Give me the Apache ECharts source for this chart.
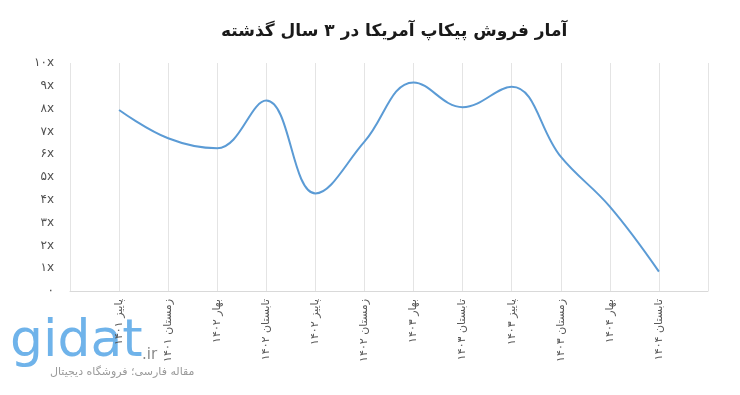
<!DOCTYPE html>
<html>
<head>
<meta charset="utf-8">
<script src="https://cdn.jsdelivr.net/npm/echarts@6/dist/echarts.min.js"></script>
<style>html,body{margin:0;padding:0;background:#fff;}#c{width:740px;height:395px;}</style>
</head>
<body>
<div id="c"></div>
<script>
var titleText = 'آمار فروش پیکاپ آمریکا در ۳ سال گذشته';
var categories = ['پاییز ۱۴۰۱','زمستان ۱۴۰۱','بهار ۱۴۰۲','تابستان ۱۴۰۲','پاییز ۱۴۰۲','زمستان ۱۴۰۲','بهار ۱۴۰۳','تابستان ۱۴۰۳','پاییز ۱۴۰۳','زمستان ۱۴۰۳','بهار ۱۴۰۴','تابستان ۱۴۰۴'];
var sales = [7.94, 6.70, 6.26, 8.35, 4.28, 6.55, 9.15, 8.06, 8.96, 5.89, 3.70, 0.85];
var yTickLabels = ['۰','۱x','۲x','۳x','۴x','۵x','۶x','۷x','۸x','۹x','۱۰x'];

var font = '"DejaVu Sans", sans-serif';
var xCats = [''].concat(categories).concat(['']);
var yData = [null].concat(sales).concat([null]);

var chart = echarts.init(document.getElementById('c'));
chart.setOption({
  backgroundColor: '#ffffff',
  animation: false,
  title: {
    text: titleText, left: 216, top: 18,
    textStyle: {fontFamily: font, fontSize: 17, fontWeight: 'bold', color: '#1a1a1a'}
  },
  grid: {left: 70, right: 32, top: 63, bottom: 104},
  xAxis: {
    type: 'category', data: xCats, boundaryGap: false,
    axisLine: {lineStyle: {color: '#d9d9d9'}},
    axisTick: {show: false},
    splitLine: {show: true, interval: 0, lineStyle: {color: '#e4e4e4'}},
    axisLabel: {interval: 0, rotate: 90, margin: 8, fontFamily: font, fontSize: 11, color: '#595959'}
  },
  yAxis: {
    type: 'value', min: 0, max: 10, interval: 1,
    axisLine: {show: false}, axisTick: {show: false}, splitLine: {show: false},
    axisLabel: {margin: 16, fontFamily: font, fontSize: 12, color: '#505050',
      formatter: function (v) { return yTickLabels[Math.round(v)]; }}
  },
  series: [{
    type: 'line', data: yData, smooth: 0.4, symbol: 'none', connectNulls: false,
    lineStyle: {color: '#5b9bd5', width: 2}
  }],
  graphic: [
    {type: 'text', left: 10, top: 316, style: {text: 'gidat', font: '52px "DejaVu Sans", sans-serif', fill: '#6fb3ea'}},
    {type: 'text', left: 142, top: 348, style: {text: '.ir', font: '15px "DejaVu Sans", sans-serif', fill: '#8a8a8a'}},
    {type: 'text', left: 50, top: 367, style: {text: 'مقاله فارسی؛ فروشگاه دیجیتال', font: '11px "DejaVu Sans", sans-serif', fill: '#9a9a9a'}}
  ]
});
</script>
</body>
</html>
